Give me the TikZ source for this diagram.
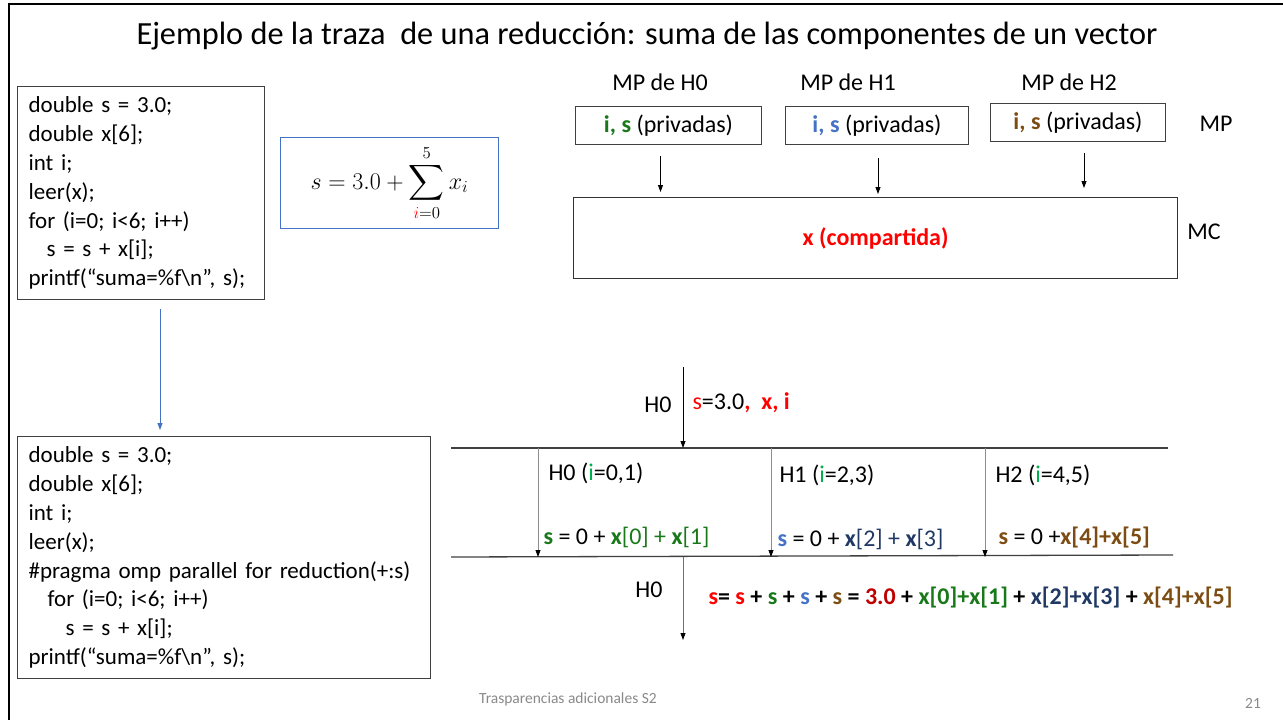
\documentclass[tikz,border=0pt]{standalone}
\usepackage{fix-cm}
\usepackage{amsmath}
\usepackage{fontspec}
\setmainfont{Carlito}
\usetikzlibrary{arrows.meta}
\definecolor{hred}{RGB}{255,0,0}
\definecolor{dred}{RGB}{192,0,0}
\definecolor{hgreen}{RGB}{25,120,25}
\definecolor{lgreen}{RGB}{0,176,80}
\definecolor{hblue}{RGB}{68,114,196}
\definecolor{navy}{RGB}{32,56,100}
\definecolor{hbrown}{RGB}{124,76,18}
\definecolor{footgray}{RGB}{137,137,137}
\begin{document}
\begin{tikzpicture}[x=1pt,y=-1pt,
    every node/.style={font=\fontsize{24}{28.8}\selectfont},
    codebox/.style={draw=black!75,line width=1.2pt,anchor=north west,align=left,inner xsep=11pt,
        font=\fontsize{23}{28.8}\selectfont},
    privbox/.style={draw=black!75,line width=1pt,anchor=north west,minimum height=38pt},
    rule/.style={black!75,line width=1.3pt},
    arr/.style={-{Triangle[length=7pt,width=5pt,color=black]},line width=0.8pt}]
    \useasboundingbox (0,0) rectangle (1283,720);
    %% slide frame and title
    \draw[line width=2.5pt] (9,720) -- (9,4) -- (1283,4);
    \node (title) at (647,36) {\fontsize{32.3}{38}\selectfont Ejemplo de la traza\ \ de una reducción: suma de las componentes de un vector};
    %% sequential code
    \node[codebox,text width=225pt,minimum height=213pt] (code1) at (17,86) {double s = 3.0;\\ double x[6];\\ int i;\\ leer(x);\\ for (i=0; i<6; i++)\\ \hspace*{18pt}s = s + x[i];\\ \mbox{printf(“suma=\%f\textbackslash n”, s);}};
    \node[draw=hblue,line width=1pt,anchor=north west,minimum width=218pt,minimum height=91pt] (formula) at (280,137) {$\displaystyle s = 3.0 + \sum_{\textcolor{hred}{i}=0}^{5} x_i$};
    %% parallel code
    \node[codebox,text width=391pt,minimum height=242pt] (code2) at (17,436) {double s = 3.0;\\ double x[6];\\ int i;\\ leer(x);\\ \mbox{\#pragma omp parallel for reduction(+:s)}\\ \hspace*{19pt}for (i=0; i<6; i++)\\ \hspace*{37pt}s = s + x[i];\\ \mbox{printf(“suma=\%f\textbackslash n”, s);}};
    \coordinate (bx) at (160,0);
    \draw[arr,hblue,-{Triangle[length=7pt,width=5pt]},shorten <=9pt,shorten >=6pt] (code1.south -| bx) -- (code2.north -| bx);
    %% memories
    \node (lab0) at (660,82) {MP de H0};
    \node (lab1) at (848,82) {MP de H1};
    \node (lab2) at (1069,82) {MP de H2};
    \node[privbox,minimum width=186pt] (mp0) at (575,106) {\textcolor{hgreen}{\textbf{i, s}} (privadas)};
    \node[privbox,minimum width=183pt] (mp1) at (785,106) {\textcolor{hblue}{\textbf{i, s}} (privadas)};
    \node[privbox,minimum width=175pt] (mp2) at (990,103) {\textcolor{hbrown}{\textbf{i, s}} (privadas)};
    \node (mplab) at (1216,124) {MP};
    \node[draw=black!80,line width=1.2pt,anchor=north west,minimum width=604pt,minimum height=81pt] (mc) at (573,197) {\textcolor{hred}{\textbf{x (compartida)}}};
    \node (mclab) at (1204,232) {MC};
    \draw[arr,shorten <=11pt,shorten >=5pt] ([xshift=-8pt]mp0.south) -- ([xshift=-8pt]mp0.south |- mc.north);
    \draw[arr,shorten <=13pt,shorten >=3pt] ([xshift=1pt]mp1.south) -- ([xshift=1pt]mp1.south |- mc.north);
    \draw[arr,shorten <=11pt,shorten >=9pt] ([xshift=6pt]mp2.south) -- ([xshift=6pt]mp2.south |- mc.north);
    %% trace
    \coordinate (start) at (683,367);
    \coordinate (ta) at (451,448);
    \coordinate (tb) at (1168,448);
    \coordinate (ba) at (451,557);
    \coordinate (bb) at (1173,555);
    \coordinate (stop) at (683,640);
    \draw[rule] (ta) -- (tb);
    \draw[rule] (ba) -- (bb);
    \draw[arr] (start) -- (start |- ta);
    \node[anchor=east] (h0a) at (675,405) {H0};
    \node[anchor=west] (init) at (689,403) {\textcolor{hred}{s}=3.0\textcolor{hred}{\textbf{,\ \ x, i}}};
    \foreach \xx/\nm in {538/f0,771/f1,985/f2} {
        \coordinate (\nm) at (\xx,448);
        \draw[arr,black!45] (\nm) -- (\nm |- ba);
    }
    \node[anchor=west] (t0) at (545,473) {H0 (\textcolor{lgreen}{i}=0,1)};
    \node[anchor=west] (t1) at (776,475) {H1 (\textcolor{lgreen}{i}=2,3)};
    \node[anchor=west] (t2) at (992,475) {H2 (\textcolor{lgreen}{i}=4,5)};
    \node[anchor=west] (p0) at (540,537) {\textcolor{hgreen}{\textbf{s}} = 0 + \textcolor{hgreen}{\textbf{x}[0] + \textbf{x}[1]}};
    \node[anchor=west] (p1) at (774,539) {\textcolor{hblue}{\textbf{s}} = 0 + \textcolor{navy}{\textbf{x}[2] + \textbf{x}[3]}};
    \node[anchor=west] (p2) at (995,538) {\textcolor{hbrown}{\textbf{s}} = 0 +\textcolor{hbrown}{\textbf{x[4]+x[5]}}};
    \draw[arr,black!55] (start |- ba) -- (stop);
    \node[anchor=east] (h0b) at (666,590) {H0};
    \node[anchor=west,font=\fontsize{24}{28.8}\selectfont\bfseries] (total) at (705,598) {\textcolor{hred}{s}= \textcolor{hred}{s} + \textcolor{hgreen}{s} + \textcolor{hblue}{s} + \textcolor{hbrown}{s} = \textcolor{dred}{3.0} + \textcolor{hgreen}{x[0]+x[1]} + \textcolor{navy}{x[2]+x[3]} + \textcolor{hbrown}{x[4]+x[5]}};
    %% footer
    \node[font=\fontsize{15.5}{18}\selectfont,text=footgray] (foot) at (568,699) {Trasparencias adicionales S2};
    \node[font=\fontsize{15.5}{18}\selectfont,text=footgray] (page) at (1253,703) {21};
\end{tikzpicture}
\end{document}
